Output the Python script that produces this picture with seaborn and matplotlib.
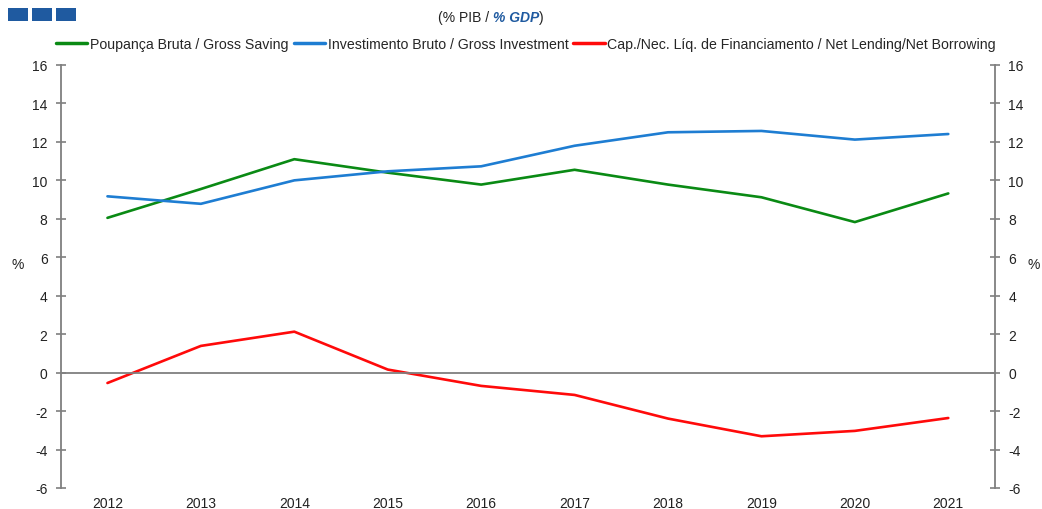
import numpy as np
import pandas as pd
import matplotlib
matplotlib.use("Agg")
import matplotlib.pyplot as plt
import seaborn as sns
from matplotlib.patches import Rectangle

years = [2012, 2013, 2014, 2015, 2016, 2017, 2018, 2019, 2020, 2021]
saving = [8.05, 9.55, 11.1, 10.4, 9.78, 10.55, 9.78, 9.12, 7.83, 9.32]
investment = [9.17, 8.78, 10.0, 10.47, 10.73, 11.8, 12.5, 12.57, 12.12, 12.41]
lending = [-0.54, 1.39, 2.13, 0.16, -0.69, -1.16, -2.39, -3.31, -3.03, -2.36]
series_names = ["Poupança Bruta / Gross Saving",
                "Investimento Bruto / Gross Investment",
                "Cap./Nec. Líq. de Financiamento / Net Lending/Net Borrowing"]
colors = ["#0A8A14", "#1E7DD2", "#FF0A0A"]
yticks = [-6, -4, -2, 0, 2, 4, 6, 8, 10, 12, 14, 16]

sns.set_theme(style="white")
plt.rcParams['font.family'] = ['Liberation Sans', 'DejaVu Sans']

df = pd.DataFrame({
    "pos": list(range(len(years))) * 3,
    "value": saving + investment + lending,
    "series": [series_names[0]] * len(years) + [series_names[1]] * len(years) + [series_names[2]] * len(years),
})

fig = plt.figure(figsize=(10.42, 5.10), dpi=100)
ax = fig.add_axes([0.0583, 0.0412, 0.8966, 0.8294])
sns.lineplot(data=df, x="pos", y="value", hue="series", palette=colors,
             linewidth=1.9, ax=ax, legend=False)

axis_col = "#7f7f7f"
ax.set_xlim(-0.5, len(years) - 0.5)
ax.set_ylim(-6, 16)
ax.set_yticks(yticks)
ax.set_yticklabels([str(t) for t in yticks])
for s in ["top", "right"]:
    ax.spines[s].set_visible(False)
ax.spines["left"].set_color(axis_col)
ax.spines["left"].set_linewidth(1.3)
ax.spines["bottom"].set_position(("data", 0))
ax.spines["bottom"].set_color(axis_col)
ax.spines["bottom"].set_linewidth(1.3)

ax.set_xticks(range(len(years)))
ax.set_xticklabels([str(y) for y in years])
ax.set_xticks(np.arange(0.5, len(years) - 1, 1.0), minor=True)
ax.tick_params(axis="x", which="major", length=0, pad=89, labelsize=10, labelcolor="#222222")
ax.tick_params(axis="x", which="minor", direction="out", length=4, width=1.2, color=axis_col)
ax.tick_params(axis="y", direction="inout", length=7, width=1.2, color=axis_col,
               labelsize=10, labelcolor="#222222", left=True, pad=6)
ax.set_xlabel("")
ax.set_ylabel("%", rotation=0, fontsize=10, color="#222222", va="center", ha="center")
ax.yaxis.set_label_coords(-0.046, 0.53)

ax2 = ax.twinx()
ax2.set_ylim(-6, 16)
ax2.set_yticks(yticks)
ax2.set_yticklabels([str(t) for t in yticks])
for s in ["top", "left", "bottom"]:
    ax2.spines[s].set_visible(False)
ax2.spines["right"].set_color(axis_col)
ax2.spines["right"].set_linewidth(1.3)
ax2.tick_params(axis="y", direction="inout", length=7, width=1.2, color=axis_col,
                labelsize=10, labelcolor="#222222", pad=6)
ax2.set_ylabel("%", rotation=0, fontsize=10, color="#222222", va="center", ha="center")
ax2.yaxis.set_label_coords(1.041, 0.53)
ax2.grid(False)
ax.grid(False)

handles = [plt.Line2D([], [], color=c, linewidth=2.5) for c in colors]
fig.legend(handles, series_names, loc="center", bbox_to_anchor=(0.505, 0.911), ncol=3,
           frameon=False, fontsize=10.2, handlelength=2.2, handletextpad=0.2,
           columnspacing=0.35, borderaxespad=0)

# decorative squares
sq_col = "#1F5AA0"
for i in range(3):
    fig.patches.append(Rectangle((8 + i * 24, 510 - 22), 20, 13, transform=None,
                                 facecolor=sq_col, edgecolor="none"))

# subtitle with mixed style
fig.canvas.draw()
renderer = fig.canvas.get_renderer()
t1 = fig.text(438 / 1042, 1 - 18 / 510, "(% PIB / ", fontsize=10, color="#222222", va="center", ha="left")
bb = t1.get_window_extent(renderer)
t2 = fig.text(bb.x1 / 1042, 1 - 18 / 510, "% GDP", fontsize=10, color="#1F5AA0",
              fontweight="bold", fontstyle="italic", va="center", ha="left")
bb2 = t2.get_window_extent(renderer)
fig.text(bb2.x1 / 1042, 1 - 18 / 510, ")", fontsize=10, color="#222222", va="center", ha="left")

fig.savefig("out.png", dpi=100)
